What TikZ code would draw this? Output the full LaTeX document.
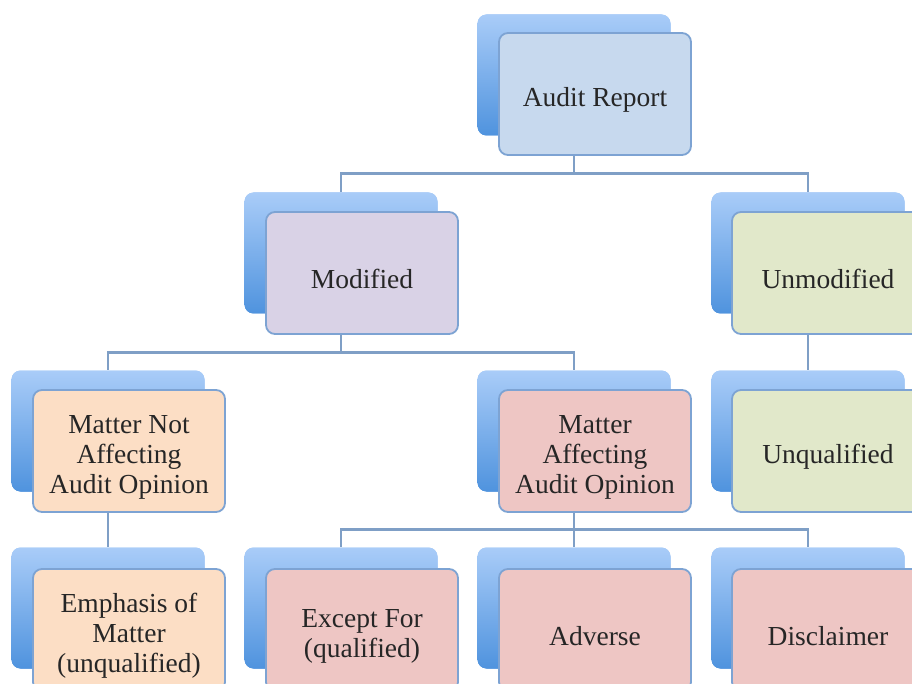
\documentclass[tikz,border=0pt]{standalone}
\usepackage{fontspec}
\setmainfont{Liberation Serif}
\definecolor{conn}{HTML}{7F9FC6}
\definecolor{fborder}{HTML}{7DA3D3}
\definecolor{backtop}{HTML}{A9CCF8}
\definecolor{backbot}{HTML}{4F93DE}
\definecolor{fblue}{HTML}{C7D9EE}
\definecolor{flav}{HTML}{D9D2E6}
\definecolor{fgreen}{HTML}{E1E8CA}
\definecolor{fpeach}{HTML}{FCDEC5}
\definecolor{fpink}{HTML}{EEC6C4}
\tikzset{
  backbox/.style={rectangle, rounded corners=9pt, minimum width=193pt, minimum height=121pt,
    inner sep=0pt, top color=backtop, bottom color=backbot, draw=none},
  frontbox/.style={rectangle, rounded corners=9pt, minimum width=192pt, minimum height=122pt,
    inner sep=0pt, draw=fborder, line width=1.8pt},
  boxtext/.style={align=center, text=black!85, inner sep=0pt, yshift=-6pt,
    font=\fontsize{27.5}{30}\selectfont},
  connline/.style={draw=conn, line width=2.6pt},
}
\begin{document}
\begin{tikzpicture}[x=1pt, y=-1pt]
\useasboundingbox (0,0) rectangle (912,684);
\fill[white] (0,0) rectangle (912,684);
\clip (0,0) rectangle (912,684);
% back boxes (anchors for connectors)
\node[backbox] (arb) at (574,75) {};
\node[backbox] (modb) at (341,253) {};
\node[backbox] (unmb) at (808,253) {};
\node[backbox] (mnab) at (108,431) {};
\node[backbox] (mab) at (574,431) {};
\node[backbox] (uqb) at (808,431) {};
\node[backbox] (emb) at (108,608) {};
\node[backbox] (exb) at (341,608) {};
\node[backbox] (adb) at (574,608) {};
\node[backbox] (dib) at (808,608) {};
% connectors
\draw[connline] (arb.south) -- ++(0,38) -| (modb.north);
\draw[connline] (arb.south) -- ++(0,38) -| (unmb.north);
\draw[connline] (modb.south) -- ++(0,39) -| (mnab.north);
\draw[connline] (modb.south) -- ++(0,39) -| (mab.north);
\draw[connline] (unmb.south) -- (uqb.north);
\draw[connline] (mnab.south) -- (emb.north);
\draw[connline] (mab.south) -- ++(0,38) -| (exb.north);
\draw[connline] (mab.south) -- ++(0,38) -| (dib.north);
\draw[connline] (mab.south) -- (adb.north);
% redraw back boxes over connectors
\foreach \b in {arb,modb,unmb,mnab,mab,uqb,emb,exb,adb,dib}
  \node[backbox] at (\b) {};
% front boxes
\node[frontbox, fill=fblue] (ar) at (595,94) {};
\node[frontbox, fill=flav] (mod) at (362,273) {};
\node[frontbox, fill=fgreen] (unm) at (828,273) {};
\node[frontbox, fill=fpeach] (mna) at (129,451) {};
\node[frontbox, fill=fpink] (ma) at (595,451) {};
\node[frontbox, fill=fgreen] (uq) at (828,451) {};
\node[frontbox, fill=fpeach] (em) at (129,630) {};
\node[frontbox, fill=fpink] (ex) at (362,630) {};
\node[frontbox, fill=fpink] (ad) at (595,630) {};
\node[frontbox, fill=fpink] (di) at (828,630) {};
% texts
\node[boxtext] (art) at (ar) {Audit Report};
\node[boxtext] (modt) at (mod) {Modified};
\node[boxtext] (unmt) at (unm) {Unmodified};
\node[boxtext] (mnat) at (mna) {Matter Not\\Affecting\\Audit Opinion};
\node[boxtext] (mat) at (ma) {Matter\\Affecting\\Audit Opinion};
\node[boxtext] (uqt) at (uq) {Unqualified};
\node[boxtext] (emt) at (em) {Emphasis of\\Matter\\(unqualified)};
\node[boxtext] (ext) at (ex) {Except For\\(qualified)};
\node[boxtext] (adt) at (ad) {Adverse};
\node[boxtext] (dit) at (di) {Disclaimer};
\end{tikzpicture}
\end{document}
